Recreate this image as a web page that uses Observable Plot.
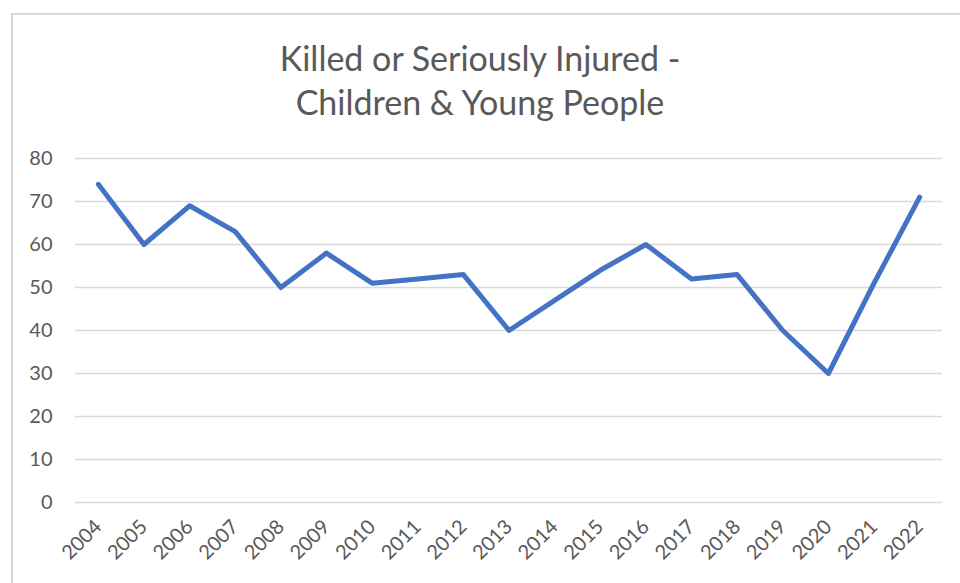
<!DOCTYPE html>
<html>
<head>
<meta charset="utf-8">
<script src="https://cdn.jsdelivr.net/npm/d3@7"></script>
<script src="https://cdn.jsdelivr.net/npm/@observablehq/plot@0.6"></script>
<style>
  html, body { margin: 0; padding: 0; background: #fff; }
  body { width: 960px; height: 583px; overflow: hidden; position: relative; font-family: Lato, "Open Sans", sans-serif; }
  #frame { position: absolute; left: 11px; top: 13px; width: 1000px; height: 1000px; border-left: 2px solid #d9d9d9; border-top: 2px solid #d9d9d9; box-sizing: border-box; pointer-events: none; }
  #title { height: 125px; box-sizing: border-box; padding-top: 36px; text-align: center; color: #595959; font-size: 34px; line-height: 44px; }
  #chart svg { display: block; }
  #chart svg text { font-size: 20px; }
</style>
</head>
<body>
<div id="frame"></div>
<div id="title">Killed or Seriously Injured -<br>Children &amp; Young People</div>
<div id="chart"></div>
<script>
const years = ["2004","2005","2006","2007","2008","2009","2010","2011","2012","2013","2014","2015","2016","2017","2018","2019","2020","2021","2022"];
const values = [74, 60, 69, 63, 50, 58, 51, 52, 53, 40, 47, 54, 60, 52, 53, 40, 30, 51, 71];
const yTicks = [0, 10, 20, 30, 40, 50, 60, 70, 80];

const data = years.map((y, i) => ({year: y, value: values[i]}));

const chart = Plot.plot({
  width: 960,
  height: 458,
  marginLeft: 75,
  marginRight: 18,
  marginTop: 33,
  marginBottom: 81,
  style: {fontFamily: "Lato, 'Open Sans', sans-serif", fontSize: "20px", color: "#595959", background: "transparent"},
  x: {type: "point", domain: years, padding: 0.5, round: false, label: null},
  y: {domain: [0, 80], ticks: yTicks, label: null},
  marks: [
    Plot.gridY(yTicks, {stroke: "#d9d9d9", strokeOpacity: 1, strokeWidth: 1.5}),
    Plot.axisY(yTicks, {tickSize: 0, tickPadding: 23, fill: "#595959", label: null}),
    Plot.axisX(years, {tickSize: 0, tickPadding: 21, tickRotate: -45, fill: "#595959", label: null}),
    Plot.line(data, {x: "year", y: "value", stroke: "#4472c4", strokeWidth: 5, strokeLinejoin: "round", strokeLinecap: "round"})
  ]
});
document.getElementById("chart").appendChild(chart);
</script>
</body>
</html>
